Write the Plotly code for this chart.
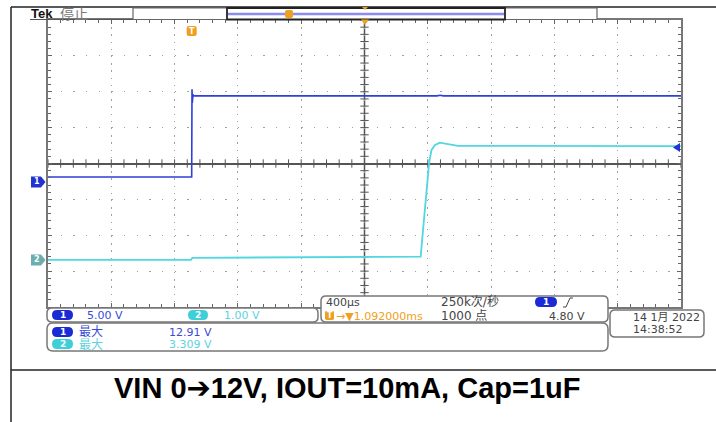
import plotly.graph_objects as go

# ---------------- data ----------------
# time relative to trigger, ms
ch1_t = [-0.908, 0.0, 0.002, 0.004, 0.008, 0.012, 1.55, 1.57, 1.59, 3.092]
ch1_v = [0.70, 0.70, 12.91, 11.0, 12.2, 12.0, 12.0, 12.08, 12.0, 12.0]

ch2_t = [-0.908, -0.004, 0.004, 1.0, 1.447, 1.462, 1.483, 1.500, 1.515, 1.536, 1.567, 1.610, 1.683, 3.092]
ch2_v = [0.00, 0.00, 0.06, 0.08, 0.09, 0.84, 1.76, 2.69, 3.06, 3.20, 3.27, 3.23, 3.18, 3.175]

CH1_VDIV = 5.0      # V/div
CH2_VDIV = 1.0      # V/div
CH1_POS = -0.515    # ground position, divisions from centre
CH2_POS = -2.688
TDIV = 0.4          # ms/div (400 us)
TRIG_OFFSET = 1.092 # ms, trigger -> centre
TRIG_LEVEL = 4.80   # V on ch1

caption = "VIN 0➔12V, IOUT=10mA, Cap=1uF"
readouts = {
    "ch1_scale": "5.00 V", "ch2_scale": "1.00 V",
    "timebase": "400µs", "rate": "250k次/秒", "points": "1000 点",
    "delay": "→▼1.092000ms", "trig_level": "4.80 V",
    "ch1_max": "12.91 V", "ch2_max": "3.309 V", "max_label": "最大",
    "date": "14 1月 2022", "time": "14:38:52",
}

# ---------------- geometry helpers ----------------
W, H = 716, 422
GL, GR, GT, GB = 48, 681, 20, 307
DIV_Y = (GB - GT) / 8.0
CY = (GT + GB) / 2.0


def px(x):
    return x / W


def py(y):
    return 1 - y / H


def P(x, y):
    return f"{px(x):.5f},{py(y):.5f}"


def rrect(x0, y0, x1, y1, r):
    return (f"M {P(x0 + r, y0)} L {P(x1 - r, y0)} Q {P(x1, y0)} {P(x1, y0 + r)} "
            f"L {P(x1, y1 - r)} Q {P(x1, y1)} {P(x1 - r, y1)} L {P(x0 + r, y1)} "
            f"Q {P(x0, y1)} {P(x0, y1 - r)} L {P(x0, y0 + r)} Q {P(x0, y0)} {P(x0 + r, y0)} Z")


BLUE = "#2f3fd8"
BLUE_TXT = "#3b4bd6"
CYAN = "#52d6e0"
CYAN_TXT = "#5dd3dd"
ORANGE = "#f0a020"
GRAY_TXT = "#444444"
FONT = "DejaVu Sans, Noto Sans CJK SC"

xmin = TRIG_OFFSET - 5 * TDIV
xmax = TRIG_OFFSET + 5 * TDIV
ch1_range = [(-4 - CH1_POS) * CH1_VDIV, (4 - CH1_POS) * CH1_VDIV]
ch2_range = [(-4 - CH2_POS) * CH2_VDIV, (4 - CH2_POS) * CH2_VDIV]

fig = go.Figure()

# centre-line tick marks (graticule decoration)
fig.add_trace(go.Scatter(
    x=[TRIG_OFFSET + k * TDIV / 5 for k in range(-25, 26)], y=[0] * 51,
    mode="markers", marker=dict(symbol="line-ns", size=6, line=dict(color="#555", width=1)),
    hoverinfo="skip", showlegend=False, xaxis="x", yaxis="y"))
fig.add_trace(go.Scatter(
    x=[TRIG_OFFSET] * 41, y=[k * 0.2 for k in range(-20, 21)],
    mode="markers", marker=dict(symbol="line-ew", size=6, line=dict(color="#555", width=1)),
    hoverinfo="skip", showlegend=False, xaxis="x", yaxis="y"))

# channel traces
fig.add_trace(go.Scatter(x=ch2_t, y=ch2_v, mode="lines", line=dict(color=CYAN, width=1.8),
                         xaxis="x", yaxis="y3", showlegend=False, name="CH2"))
fig.add_trace(go.Scatter(x=ch1_t, y=ch1_v, mode="lines", line=dict(color=BLUE, width=1.6),
                         xaxis="x", yaxis="y2", showlegend=False, name="CH1"))

shapes = []
ann = []

# vertical centre line
shapes.append(dict(type="line", xref="x", yref="y", x0=TRIG_OFFSET, x1=TRIG_OFFSET, y0=-4, y1=4,
                   line=dict(color="#555", width=1.5), layer="below"))

# outer frame lines
shapes.append(dict(type="line", xref="paper", yref="paper", x0=px(11), x1=px(11), y0=py(7), y1=0,
                   line=dict(color="#222", width=1.5)))
shapes.append(dict(type="line", xref="paper", yref="paper", x0=px(11), x1=1, y0=py(7), y1=py(7),
                   line=dict(color="#222", width=1.5)))
shapes.append(dict(type="line", xref="paper", yref="paper", x0=px(11), x1=1, y0=py(370), y1=py(370),
                   line=dict(color="#222", width=1.5)))

# record bar
shapes.append(dict(type="line", xref="paper", yref="paper", x0=px(30), x1=px(133), y0=py(19.5), y1=py(19.5),
                   line=dict(color="#555", width=1.2)))
shapes.append(dict(type="rect", xref="paper", yref="paper", x0=px(133), x1=px(597), y0=py(19.5), y1=py(8),
                   line=dict(color="#666", width=1.2), fillcolor="white"))
shapes.append(dict(type="line", xref="paper", yref="paper", x0=px(228), x1=px(504), y0=py(14), y1=py(14),
                   line=dict(color="#8c8cf0", width=2.5)))
shapes.append(dict(type="rect", xref="paper", yref="paper", x0=px(227), x1=px(505), y0=py(19.5), y1=py(8),
                   line=dict(color="#222", width=1.8)))
shapes.append(dict(type="path", xref="paper", yref="paper", path=rrect(285, 10, 293, 18, 2),
                   fillcolor=ORANGE, line=dict(width=0)))
# trigger position triangles
shapes.append(dict(type="path", xref="paper", yref="paper",
                   path=f"M {P(361, 19.5)} L {P(369, 19.5)} L {P(365, 25)} Z", fillcolor=ORANGE, line=dict(width=0)))
shapes.append(dict(type="path", xref="paper", yref="paper",
                   path=f"M {P(362, 7)} L {P(368, 7)} L {P(365, 10)} Z", fillcolor=ORANGE, line=dict(width=0)))

# trigger point marker inside graticule
tx = GL + (0 - xmin) / (xmax - xmin) * (GR - GL)
shapes.append(dict(type="path", xref="paper", yref="paper", path=rrect(tx - 5, 26, tx + 5, 36, 2),
                   fillcolor=ORANGE, line=dict(width=0)))
ann.append(dict(x=px(tx), y=py(31), text="<b>T</b>", font=dict(color="white", size=8, family=FONT)))

# ground markers
g1 = CY - CH1_POS * DIV_Y
g2 = CY - CH2_POS * DIV_Y
for gy, col, lab in [(g1, "#2233d0", "1"), (g2, "#6aaeb0", "2")]:
    shapes.append(dict(type="path", xref="paper", yref="paper",
                       path=f"M {P(31, gy - 5.5)} L {P(41, gy - 5.5)} L {P(45.5, gy)} L {P(41, gy + 5.5)} L {P(31, gy + 5.5)} Z",
                       fillcolor=col, line=dict(width=0)))
    ann.append(dict(x=px(36.5), y=py(gy), text=f"<b>{lab}</b>", font=dict(color="white", size=8, family=FONT)))

# trigger level arrow (right side)
tly = CY - (CH1_POS + TRIG_LEVEL / CH1_VDIV) * DIV_Y
shapes.append(dict(type="path", xref="paper", yref="paper",
                   path=f"M {P(673, tly)} L {P(680, tly - 4.5)} L {P(680, tly + 4.5)} Z",
                   fillcolor="#2233d0", line=dict(width=0)))

# bottom readout boxes
shapes.append(dict(type="path", xref="paper", yref="paper", path=rrect(321, 296, 608, 322, 5),
                   fillcolor="white", line=dict(color="#777", width=1.5)))
shapes.append(dict(type="path", xref="paper", yref="paper", path=rrect(47, 308, 318, 322, 5),
                   fillcolor="white", line=dict(color="#777", width=1.5)))
shapes.append(dict(type="path", xref="paper", yref="paper", path=rrect(47, 323, 608, 351, 6),
                   fillcolor="white", line=dict(color="#777", width=1.5)))
shapes.append(dict(type="path", xref="paper", yref="paper", path=rrect(610, 310, 704, 337, 5),
                   fillcolor="white", line=dict(color="#777", width=1.5)))


def pill(x0, x1, yc, col, lab):
    shapes.append(dict(type="path", xref="paper", yref="paper", path=rrect(x0, yc - 5, x1, yc + 5, 5),
                       fillcolor=col, line=dict(width=0)))
    ann.append(dict(x=px((x0 + x1) / 2), y=py(yc), text=f"<b>{lab}</b>",
                    font=dict(color="white", size=9, family=FONT)))


def txt(x, y, s, col, size=11, anchor="left"):
    ann.append(dict(x=px(x), y=py(y), text=s, xanchor=anchor, font=dict(color=col, size=size, family=FONT)))


pill(52, 73, 315, "#1a2bd6", "1")
txt(85, 315, readouts["ch1_scale"], BLUE_TXT)
pill(188, 208, 315, "#3fcfd9", "2")
txt(222, 315, readouts["ch2_scale"], CYAN_TXT)

pill(52, 73, 332, "#1a2bd6", "1")
txt(77, 332, readouts["max_label"], BLUE_TXT, 12)
txt(167, 332, readouts["ch1_max"], BLUE_TXT)
pill(52, 73, 344, "#3fcfd9", "2")
txt(77, 344.5, readouts["max_label"], CYAN_TXT, 12)
txt(167, 344, readouts["ch2_max"], CYAN_TXT)

txt(324, 302, readouts["timebase"], GRAY_TXT)
txt(439, 302, readouts["rate"], GRAY_TXT, 12)
pill(535, 557, 302, "#1a2bd6", "1")
shapes.append(dict(type="path", xref="paper", yref="paper",
                   path=f"M {P(563, 307)} L {P(566, 307)} L {P(570, 298)} L {P(573, 298)}",
                   line=dict(color="#444", width=1)))
shapes.append(dict(type="path", xref="paper", yref="paper", path=rrect(325, 311, 334, 320, 1.5),
                   fillcolor=ORANGE, line=dict(width=0)))
ann.append(dict(x=px(329.5), y=py(315.5), text="<b>T</b>", font=dict(color="white", size=8, family=FONT)))
txt(334, 316, readouts["delay"], ORANGE, 11)
txt(439, 316, readouts["points"], GRAY_TXT, 12)
txt(547, 316, readouts["trig_level"], GRAY_TXT)

txt(631, 317, readouts["date"], GRAY_TXT)
txt(631, 329, readouts["time"], GRAY_TXT)

# header
ann.append(dict(x=px(29), y=py(13), text="<b>Tek</b>", xanchor="left",
                font=dict(color="#111", size=13, family="Liberation Sans, DejaVu Sans")))
ann.append(dict(x=px(58), y=py(13), text="停止", xanchor="left",
                font=dict(color="#777", size=14, family="Noto Sans CJK SC")))

# caption
ann.append(dict(x=px(347), y=py(388), text=f"<b>{caption}</b>",
                font=dict(color="black", size=29, family="Liberation Sans, DejaVu Sans")))

for a in ann:
    a.setdefault("xref", "paper")
    a.setdefault("yref", "paper")
    a.setdefault("showarrow", False)
    a.setdefault("xanchor", "center")
    a.setdefault("yanchor", "middle")

grid_col = "#a0a0a0"
fig.update_layout(
    width=W, height=H, margin=dict(l=0, r=0, t=0, b=0),
    paper_bgcolor="white", plot_bgcolor="white", showlegend=False,
    xaxis=dict(domain=[px(GL), px(GR)], range=[xmin, xmax], tick0=TRIG_OFFSET, dtick=TDIV,
               showgrid=True, gridcolor=grid_col, griddash="1.3px,5.9px", gridwidth=1,
               zeroline=False, showticklabels=False, ticks="inside", ticklen=4, tickcolor="#666",
               minor=dict(tick0=TRIG_OFFSET, dtick=TDIV / 5, ticks="inside", ticklen=3, tickcolor="#666"),
               showline=True, linecolor="#777", linewidth=2, mirror="ticks", fixedrange=True),
    yaxis=dict(domain=[py(GB), py(GT)], range=[-4, 4], tick0=0, dtick=1,
               showgrid=True, gridcolor=grid_col, griddash="1.3px,11.36px", gridwidth=1,
               zeroline=True, zerolinecolor="#555", zerolinewidth=1.5,
               showticklabels=False, ticks="inside", ticklen=4, tickcolor="#666",
               minor=dict(tick0=0, dtick=0.2, ticks="inside", ticklen=3, tickcolor="#666"),
               showline=True, linecolor="#777", linewidth=2, mirror="ticks", fixedrange=True),
    yaxis2=dict(overlaying="y", range=ch1_range, visible=False, fixedrange=True),
    yaxis3=dict(overlaying="y", range=ch2_range, visible=False, fixedrange=True),
    shapes=shapes, annotations=ann,
)

fig.write_html("out.html", config={"displayModeBar": False},
               post_script="document.body.style.margin='0px';document.body.style.overflow='hidden';")
